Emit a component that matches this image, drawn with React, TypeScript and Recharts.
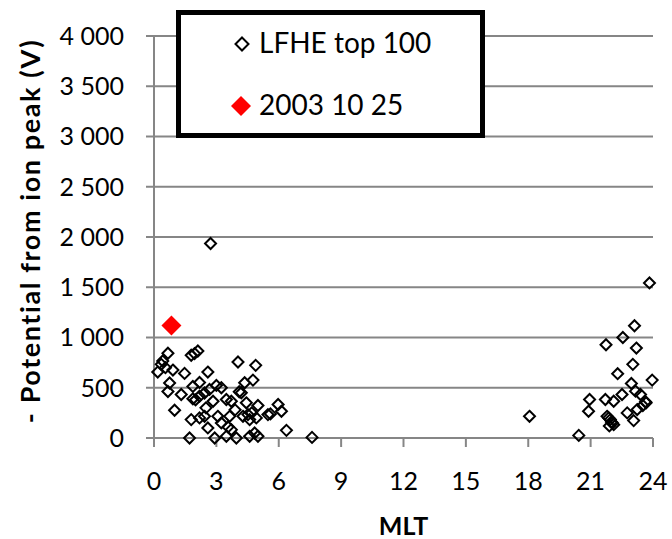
import { ScatterChart, Scatter, XAxis, YAxis, CartesianGrid } from "recharts";

// LFHE top 100 events, MLT (h) and -potential (V)
const lfheMlt = [
  0.67, 0.42, 0.35, 0.18, 0.91, 1.47, 1.79, 2.11, 1.95, 2.59, 4.04, 4.89,
  0.75, 0.67, 1.31, 1.87, 2.19, 2.43, 2.67, 3.0, 3.24, 1.87, 2.19, 2.84,
  3.48, 3.72, 4.2, 4.36, 4.76, 4.44, 5.0, 5.97, 6.13, 5.48, 0.99, 1.79,
  2.19, 2.43, 2.59, 3.07, 3.24, 3.56, 3.72, 3.64, 4.28, 4.52, 4.6, 4.92,
  1.71, 2.92, 3.48, 3.96, 4.6, 4.84, 5.0, 6.37, 2.72, 7.6, 2.5, 3.9,
  4.7, 5.6, 4.1, 2.0, 0.55,
  23.83, 23.11, 22.55, 21.74, 23.2, 23.03, 22.3, 23.96, 22.96, 23.16, 23.4,
  23.67, 23.51, 22.51, 21.71, 20.95, 22.11, 20.9, 21.79, 21.95, 22.11, 22.76,
  23.07, 23.24, 18.06, 20.43, 21.87, 22.0, 23.64, 22.05, 21.9,
];
const lfheV = [
  843, 766, 733, 656, 676, 643, 823, 866, 840, 656, 756, 723,
  547, 463, 433, 513, 553, 448, 483, 523, 500, 390, 416, 366,
  383, 366, 450, 550, 576, 350, 323, 333, 266, 233, 276, 183,
  200, 216, 100, 216, 150, 110, 83, 216, 216, 233, 183, 200,
  0, 0, 17, 0, 17, 50, 17, 76, 1935, 6, 300, 280,
  250, 240, 460, 380, 700,
  1543, 1117, 1000, 928, 895, 733, 640, 576, 543, 466, 433,
  350, 323, 433, 383, 383, 366, 266, 216, 183, 133, 250,
  173, 283, 216, 26, 200, 160, 360, 150, 120,
];
// highlighted event
const eventMlt = [0.84];
const eventV = [1120];

const xTicks = [0, 3, 6, 9, 12, 15, 18, 21, 24];
const yTicks = [0, 500, 1000, 1500, 2000, 2500, 3000, 3500, 4000];

const lfheData = lfheMlt.map((m, i) => ({ mlt: m, v: lfheV[i] }));
const eventData = eventMlt.map((m, i) => ({ mlt: m, v: eventV[i] }));

const FONT = "Lato, 'Open Sans', sans-serif";
const AXIS = "#868686";

const fmt = (v: number) =>
  v >= 1000 ? `${Math.floor(v / 1000)} ${String(v % 1000).padStart(3, "0")}` : String(v);

const diamond = (cx: number, cy: number, r: number) =>
  `M${cx},${cy - r}L${cx + r},${cy}L${cx},${cy + r}L${cx - r},${cy}Z`;

const HollowDiamond = (p: any) => (
  <path d={diamond(p.cx, p.cy, 5.5)} fill="none" stroke="#000" strokeWidth={2} />
);
const RedDiamond = (p: any) => (
  <path d={diamond(p.cx, p.cy, 10)} fill="#ff0000" stroke="none" />
);

// rotated y title, placed by hand
const YTitle = () => (
  <text
    x={29}
    y={231}
    transform="rotate(-90 29 231)"
    textAnchor="middle"
    dominantBaseline="central"
    fontSize={27}
    fontWeight={700}
    letterSpacing={1.6}
    fontFamily={FONT}
    fill="#000"
  >
    - Potential from ion peak (V)
  </text>
);

// legend box drawn over the plot, like the original
const LegendBox = () => (
  <div
    style={{
      position: "absolute",
      left: 176,
      top: 10,
      width: 299,
      height: 118,
      border: "5px solid #000",
      background: "#fff",
    }}
  >
    <svg width={299} height={118} style={{ position: "absolute", left: 0, top: 0 }}>
      <path d={diamond(61, 29, 6.5)} fill="none" stroke="#000" strokeWidth={2} />
      <text x={78} y={38} fontSize={28} fontFamily={FONT} fill="#000">LFHE top 100</text>
      <path d={diamond(60, 91, 10)} fill="#ff0000" />
      <text x={78} y={100} fontSize={28} fontFamily={FONT} fill="#000">2003 10 25</text>
    </svg>
  </div>
);

export default function App() {
  return (
    <div style={{ position: "absolute", left: 0, top: 0, width: 672, height: 539, background: "#fff" }}>
      <ScatterChart
        width={672}
        height={539}
        margin={{ top: 36, right: 19, bottom: 0, left: 0 }}
      >
        <CartesianGrid horizontal vertical={false} stroke={AXIS} strokeWidth={2} />
        <XAxis
          type="number"
          dataKey="mlt"
          domain={[0, 24]}
          ticks={xTicks}
          interval={0}
          height={101}
          stroke={AXIS}
          strokeWidth={2}
          tickSize={9}
          tickMargin={25}
          tick={{ fill: "#000", fontSize: 25, fontFamily: FONT }}
          label={{
            value: "MLT",
            position: "insideBottom",
            offset: 4,
            style: { fill: "#000", fontSize: 25, fontWeight: 700, fontFamily: FONT },
          }}
        />
        <YAxis
          type="number"
          dataKey="v"
          domain={[0, 4000]}
          ticks={yTicks}
          interval={0}
          width={154}
          stroke={AXIS}
          strokeWidth={2}
          tickSize={8}
          tickMargin={22}
          tickFormatter={fmt}
          tick={{ fill: "#000", fontSize: 25, fontFamily: FONT }}
          label={<YTitle />}
        />
        <Scatter name="LFHE top 100" data={lfheData} shape={HollowDiamond} isAnimationActive={false} />
        <Scatter name="2003 10 25" data={eventData} shape={RedDiamond} isAnimationActive={false} />
      </ScatterChart>
      <LegendBox />
    </div>
  );
}
